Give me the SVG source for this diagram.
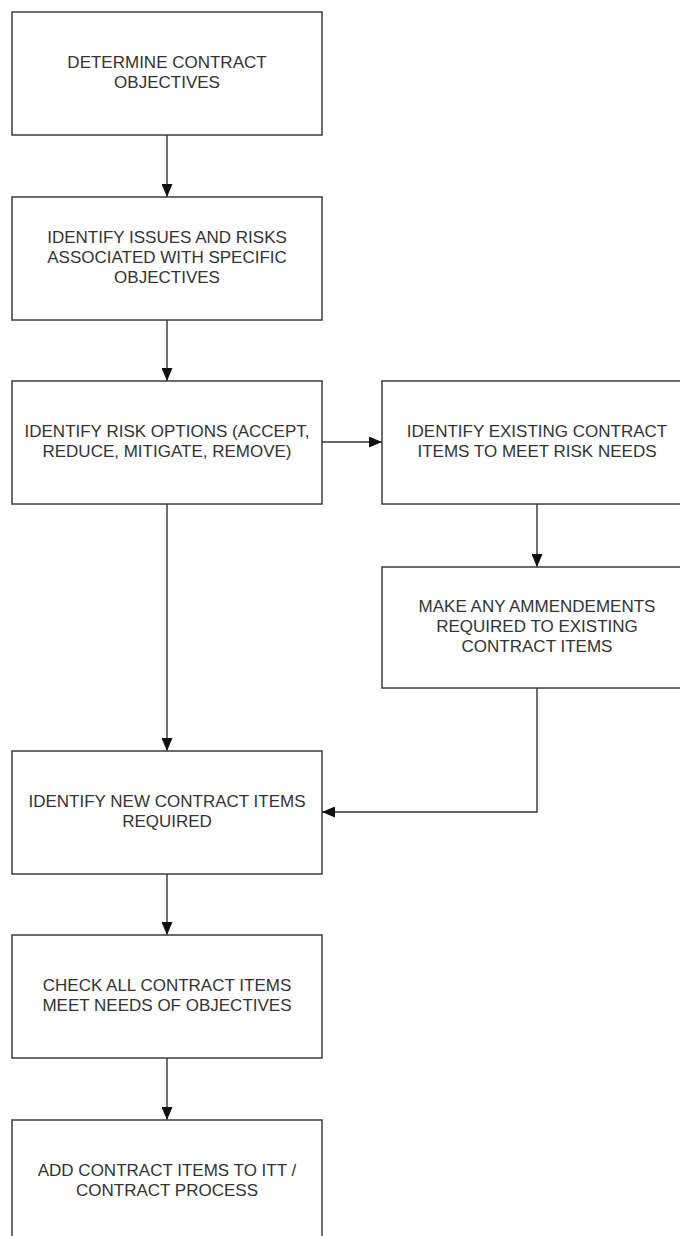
<svg xmlns="http://www.w3.org/2000/svg" width="680" height="1236" viewBox="0 0 680 1236">
<style>
.box{fill:#ffffff;stroke:#3c3c3c;stroke-width:1.5}
.lbl{font-family:"Liberation Sans",Arial,sans-serif;font-size:17px;fill:#333333;text-anchor:middle}
.conn{fill:none;stroke:#333333;stroke-width:1.4}
</style>
<defs>
<marker id="ah" markerWidth="14" markerHeight="11" refX="13" refY="5.5" orient="auto" markerUnits="userSpaceOnUse">
<path d="M0,0 L13,5.5 L0,11 Z" fill="#111111"/>
</marker>
</defs>
<rect width="680" height="1236" fill="#ffffff"/>
<g id="connectors">
<line class="conn" x1="167" y1="135" x2="167" y2="197" marker-end="url(#ah)"/>
<line class="conn" x1="167" y1="320" x2="167" y2="381" marker-end="url(#ah)"/>
<line class="conn" x1="322" y1="442" x2="382" y2="442" marker-end="url(#ah)"/>
<line class="conn" x1="537" y1="504" x2="537" y2="567" marker-end="url(#ah)"/>
<line class="conn" x1="167" y1="504" x2="167" y2="751" marker-end="url(#ah)"/>
<polyline class="conn" points="537,688 537,812 322,812" marker-end="url(#ah)"/>
<line class="conn" x1="167" y1="874" x2="167" y2="935" marker-end="url(#ah)"/>
<line class="conn" x1="167" y1="1058" x2="167" y2="1120" marker-end="url(#ah)"/>
</g>
<g id="n1">
<rect class="box" x="12" y="12" width="310" height="123"/>
<text class="lbl" x="167" y="68">DETERMINE CONTRACT</text>
<text class="lbl" x="167" y="88">OBJECTIVES</text>
</g>
<g id="n2">
<rect class="box" x="12" y="197" width="310" height="123"/>
<text class="lbl" x="167" y="243">IDENTIFY ISSUES AND RISKS</text>
<text class="lbl" x="167" y="263">ASSOCIATED WITH SPECIFIC</text>
<text class="lbl" x="167" y="283">OBJECTIVES</text>
</g>
<g id="n3">
<rect class="box" x="12" y="381" width="310" height="123"/>
<text class="lbl" x="167" y="437">IDENTIFY RISK OPTIONS (ACCEPT,</text>
<text class="lbl" x="167" y="457">REDUCE, MITIGATE, REMOVE)</text>
</g>
<g id="n4">
<rect class="box" x="382" y="381" width="310" height="123"/>
<text class="lbl" x="537" y="437">IDENTIFY EXISTING CONTRACT</text>
<text class="lbl" x="537" y="457">ITEMS TO MEET RISK NEEDS</text>
</g>
<g id="n5">
<rect class="box" x="382" y="567" width="310" height="121"/>
<text class="lbl" x="537" y="612">MAKE ANY AMMENDEMENTS</text>
<text class="lbl" x="537" y="632">REQUIRED TO EXISTING</text>
<text class="lbl" x="537" y="652">CONTRACT ITEMS</text>
</g>
<g id="n6">
<rect class="box" x="12" y="751" width="310" height="123"/>
<text class="lbl" x="167" y="807">IDENTIFY NEW CONTRACT ITEMS</text>
<text class="lbl" x="167" y="827">REQUIRED</text>
</g>
<g id="n7">
<rect class="box" x="12" y="935" width="310" height="123"/>
<text class="lbl" x="167" y="991">CHECK ALL CONTRACT ITEMS</text>
<text class="lbl" x="167" y="1011">MEET NEEDS OF OBJECTIVES</text>
</g>
<g id="n8">
<rect class="box" x="12" y="1120" width="310" height="123"/>
<text class="lbl" x="167" y="1176">ADD CONTRACT ITEMS TO ITT /</text>
<text class="lbl" x="167" y="1196">CONTRACT PROCESS</text>
</g>
</svg>
